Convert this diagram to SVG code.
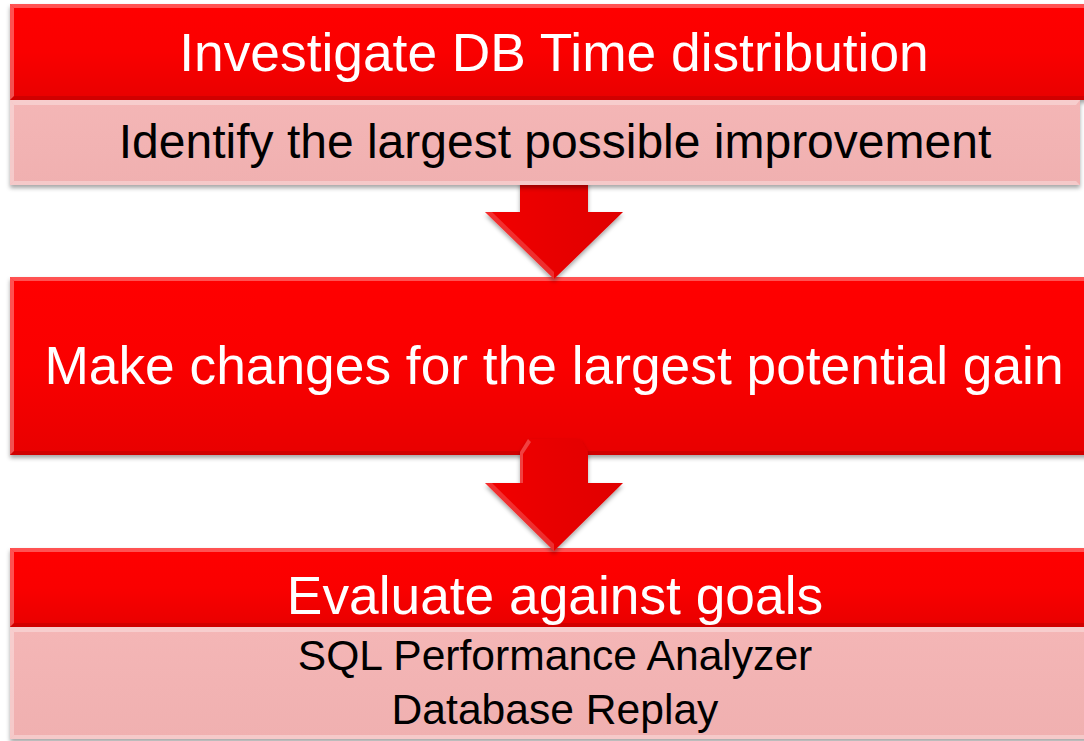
<svg xmlns="http://www.w3.org/2000/svg" width="1084" height="741" viewBox="0 0 1084 741">
<defs>
<linearGradient id="gRed" x1="0" y1="0" x2="0" y2="1">
<stop offset="0" stop-color="#FF0000"/>
<stop offset="0.5" stop-color="#FA0000"/>
<stop offset="1" stop-color="#E80000"/>
</linearGradient>
<linearGradient id="gPink" x1="0" y1="0" x2="0" y2="1">
<stop offset="0" stop-color="#F4B6B6"/>
<stop offset="1" stop-color="#F0B0B0"/>
</linearGradient>
<linearGradient id="gArrow" x1="0" y1="0" x2="1" y2="0">
<stop offset="0" stop-color="#F20000"/>
<stop offset="0.5" stop-color="#E80000"/>
<stop offset="1" stop-color="#E00000"/>
</linearGradient>
<filter id="shadow" x="-5%" y="-20%" width="110%" height="150%">
<feDropShadow dx="0" dy="3" stdDeviation="2.2" flood-color="#000" flood-opacity="0.35"/>
</filter>
</defs>
<style>
.red{fill:url(#gRed)}
.pink{fill:url(#gPink)}
.hl{fill:#FFFFFF;fill-opacity:0.32}
.dk{fill:#000000;fill-opacity:0.10}
.arrow{fill:url(#gArrow);filter:url(#shadow)}
.t{font-family:"Liberation Sans",Arial,sans-serif;text-anchor:middle}
.w{fill:#FFFFFF}
.b{fill:#000000}
</style>
<rect width="1084" height="741" fill="#FFFFFF"/>

<!-- Box 2 -->
<g id="node-make-changes">
<g filter="url(#shadow)"><rect x="10" y="277" width="1080" height="178" class="red"/></g>
<polygon class="hl" points="10,277 1090,277 1086,281 14,281"/>
<polygon class="hl" points="10,277 14,281 14,451 10,455"/>
<polygon class="dk" points="10,455 14,451 1086,451 1090,455"/>
<text class="t w" x="554" y="384" font-size="53.3">Make changes for the largest potential gain</text>
</g>

<!-- Box 3 -->
<g id="node-evaluate">
<g filter="url(#shadow)">
<rect x="10" y="548" width="1080" height="79" class="red"/>
<rect x="10" y="627" width="1080" height="112" class="pink"/>
</g>
<polygon class="hl" points="10,548 1090,548 1086,552 14,552"/>
<polygon class="hl" points="10,548 14,552 14,623 10,627"/>
<polygon class="dk" points="10,627 14,623 1086,623 1090,627"/>
<polygon class="hl" points="10,627 1090,627 1086,632 14,632"/>
<polygon class="hl" points="10,627 14,632 14,735 10,739"/>
<polygon class="hl" points="10,739 14,735 1086,735 1090,739"/>
<text class="t w" x="555" y="614" font-size="53.3">Evaluate against goals</text>
<text class="t b" x="555" y="670" font-size="42.6">SQL Performance Analyzer</text>
<text class="t b" x="555" y="724" font-size="42.6">Database Replay</text>
</g>

<!-- Connectors -->
<g id="connectors">
<polygon class="arrow" points="520,175 588,175 588,212 623,212 554,279 485,212 520,212"/>
<polygon class="arrow" points="528,439 580,439 588,452 588,483 623,483 554,551 485,483 520,483 520,452"/>
<polygon fill="#FFFFFF" fill-opacity="0.25" points="520,452 528,439 531,442 523,454 523,483 520,483"/>
<polygon fill="#FFFFFF" fill-opacity="0.18" points="485,212 554,279 554,272 492,212"/>
<polygon fill="#FFFFFF" fill-opacity="0.18" points="485,483 554,551 554,544 492,483"/>
</g>

<!-- Box 1 -->
<g id="node-investigate">
<g filter="url(#shadow)">
<rect x="10" y="4" width="1080" height="96" class="red"/>
<rect x="10" y="100" width="1070" height="85" class="pink"/>
</g>
<polygon class="hl" points="10,4 1090,4 1086,8 14,8"/>
<polygon class="hl" points="10,4 14,8 14,96 10,100"/>
<polygon class="dk" points="10,100 14,96 1086,96 1090,100"/>
<polygon class="hl" points="10,100 1080,100 1076,105 14,105"/>
<polygon class="hl" points="10,100 14,105 14,181 10,185"/>
<polygon class="hl" points="10,185 14,181 1076,181 1080,185"/>
<text class="t w" x="554" y="71" font-size="53.3">Investigate DB Time distribution</text>
<text class="t b" x="555" y="158" font-size="48">Identify the largest possible improvement</text>
</g>
</svg>
